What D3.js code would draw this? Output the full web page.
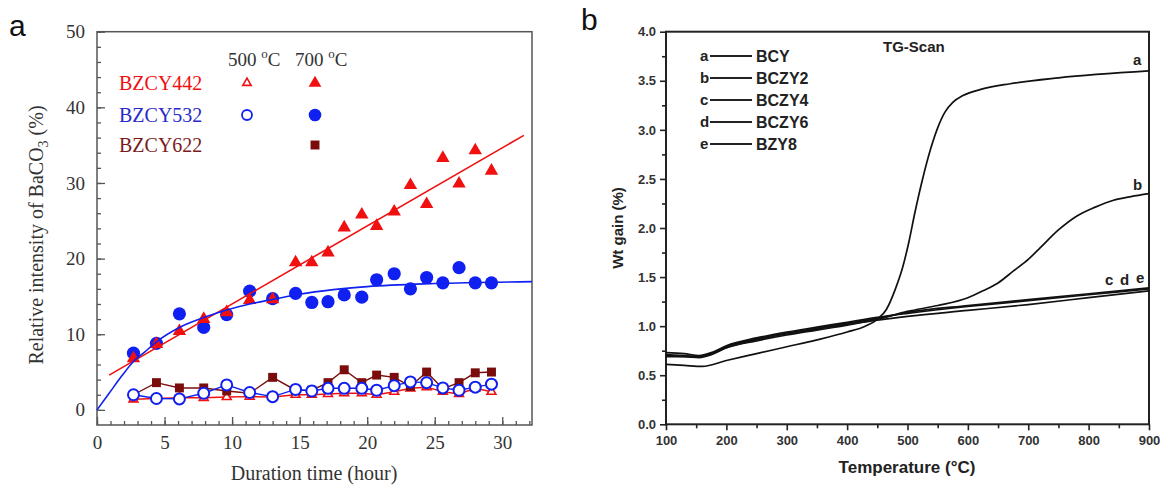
<!DOCTYPE html>
<html>
<head>
<meta charset="utf-8">
<script src="https://cdn.jsdelivr.net/npm/d3@7/dist/d3.min.js"></script>
<style>
  html, body { margin: 0; padding: 0; background: #fff; }
  svg { display: block; }
</style>
</head>
<body>
<svg id="fig" width="1162" height="490"></svg>
<script>
// ---------- Panel a: BaCO3 formation vs. exposure time ----------
const hours = [2.7, 4.4, 6.1, 7.9, 9.6, 11.3, 13.0, 14.7, 15.9, 17.1, 18.3, 19.6, 20.7, 22.0, 23.2, 24.4, 25.6, 26.8, 28.0, 29.2];
const bzcy442_700 = [6.8, 8.7, 10.4, 12.0, 12.9, 14.5, 14.6, 19.5, 19.5, 20.8, 24.1, 25.8, 24.3, 26.2, 29.7, 27.2, 33.3, 29.9, 34.3, 31.6];
const bzcy532_700 = [7.5, 8.8, 12.7, 10.9, 12.6, 15.7, 14.7, 15.4, 14.2, 14.3, 15.2, 14.9, 17.2, 18.0, 16.0, 17.5, 16.8, 18.8, 16.8, 16.8];
const bzcy442_500 = [1.4, 1.5, 1.6, 1.6, 1.7, 1.75, 1.7, 2.0, 2.0, 2.1, 2.2, 2.2, 2.0, 2.4, 2.85, 3.0, 2.4, 2.1, 2.85, 2.4];
const bzcy532_500 = [2.0, 1.5, 1.45, 2.2, 3.3, 2.3, 1.75, 2.7, 2.5, 2.85, 2.85, 2.85, 2.6, 3.2, 3.7, 3.6, 2.9, 2.6, 3.0, 3.4];
const bzcy622_700 = [2.0, 3.6, 2.9, 2.9, 2.5, 2.2, 4.3, 2.6, 2.6, 3.6, 5.3, 3.6, 4.6, 4.3, 3.1, 5.0, 2.8, 3.6, 4.9, 5.0];
// fitted trends
const fit442_t = [0.9, 31.6];
const fit442_v = [4.6, 36.3];
const fit532_t = [0, 0.9, 1.8, 2.7, 3.5, 4.4, 6.1, 7.9, 9.6, 11.3, 13, 15, 17.5, 20, 25, 32.2];
const fit532_v = [0, 2.2, 4.4, 6.4, 7.6, 9.0, 10.9, 12.2, 13.2, 14.0, 14.6, 15.3, 15.9, 16.3, 16.7, 16.95];
const aXTicks = [0, 5, 10, 15, 20, 25, 30];
const aYTicks = [0, 10, 20, 30, 40, 50];

// ---------- Panel b: TG scan ----------
const tempB = [100, 150, 175, 200, 250, 300, 350, 400, 450, 500, 550, 600, 625, 650, 675, 700, 720, 750, 780, 810, 840, 870, 900];
const wtB   = [0.70, 0.69, 0.72, 0.78, 0.85, 0.91, 0.96, 1.01, 1.07, 1.15, 1.21, 1.29, 1.36, 1.44, 1.56, 1.68, 1.80, 1.98, 2.12, 2.21, 2.28, 2.32, 2.35];
const tempA = [100, 130, 160, 200, 250, 300, 350, 400, 430, 450, 465, 480, 492, 502, 512, 525, 538, 550, 562, 575, 592, 620, 670, 750, 900];
const wtA   = [0.61, 0.60, 0.59, 0.65, 0.72, 0.79, 0.86, 0.94, 1.00, 1.07, 1.17, 1.38, 1.60, 1.85, 2.15, 2.50, 2.80, 3.02, 3.18, 3.28, 3.35, 3.41, 3.47, 3.53, 3.60];
const tempCDE = [100, 130, 155, 175, 200, 250, 300, 350, 400, 450, 500, 600, 700, 800, 900];
const wtC = [0.73, 0.72, 0.70, 0.73, 0.80, 0.88, 0.94, 0.99, 1.04, 1.09, 1.13, 1.20, 1.26, 1.32, 1.38];
const wtD = [0.71, 0.70, 0.69, 0.72, 0.79, 0.87, 0.93, 0.98, 1.03, 1.08, 1.14, 1.21, 1.27, 1.33, 1.39];
const wtE = [0.69, 0.69, 0.68, 0.71, 0.78, 0.86, 0.92, 0.97, 1.02, 1.06, 1.10, 1.16, 1.22, 1.29, 1.36];
const bXTicks = [100, 200, 300, 400, 500, 600, 700, 800, 900];
const bYTicks = [0, 0.5, 1.0, 1.5, 2.0, 2.5, 3.0, 3.5, 4.0];
const bLegendKeys = ["a", "b", "c", "d", "e"];
const bLegendNames = ["BCY", "BCZY2", "BCZY4", "BCZY6", "BZY8"];

const svg = d3.select("#fig");
const RED = "#f01010", BLUE = "#1020f0", DRED = "#7a0c0c";
const serif = "'Liberation Serif', 'Times New Roman', serif";
const sans = "'Liberation Sans', Arial, sans-serif";

// ================= Panel a =================
const ax = d3.scaleLinear().domain([0, 32.2]).range([97, 532]);
const ay = d3.scaleLinear().domain([-2, 50]).range([425, 31.7]);
const ga = svg.append("g");

// frame
ga.append("rect").attr("x", 97).attr("y", 31.7).attr("width", 435).attr("height", 393.3)
  .attr("fill", "none").attr("stroke", "#555").attr("stroke-width", 1.5);

// inward ticks
const axMinor = d3.range(0, 33, 1);
ga.append("g").attr("transform", "translate(0,425)")
  .call(d3.axisBottom(ax).tickValues(axMinor).tickSize(-4).tickFormat(""))
  .call(g => g.select(".domain").remove())
  .selectAll("line").attr("stroke", "#555").attr("stroke-width", 1.3);
ga.append("g").attr("transform", "translate(0,425)")
  .call(d3.axisBottom(ax).tickValues(aXTicks).tickSize(-8).tickPadding(11).tickFormat(d3.format("d")))
  .call(g => g.select(".domain").remove())
  .call(g => g.selectAll("line").attr("stroke", "#555").attr("stroke-width", 1.3))
  .call(g => g.selectAll("text").attr("font-family", serif).attr("font-size", 19).attr("fill", "#333"));
ga.append("g").attr("transform", "translate(97,0)")
  .call(d3.axisLeft(ay).tickValues(d3.range(0, 51, 2)).tickSize(-4).tickFormat(""))
  .call(g => g.select(".domain").remove())
  .selectAll("line").attr("stroke", "#555").attr("stroke-width", 1.3);
ga.append("g").attr("transform", "translate(97,0)")
  .call(d3.axisLeft(ay).tickValues(aYTicks).tickSize(-8).tickPadding(12).tickFormat(d3.format("d")))
  .call(g => g.select(".domain").remove())
  .call(g => g.selectAll("line").attr("stroke", "#555").attr("stroke-width", 1.3))
  .call(g => g.selectAll("text").attr("font-family", serif).attr("font-size", 19).attr("fill", "#333"));

// axis titles
ga.append("text").attr("x", 314).attr("y", 480).attr("text-anchor", "middle")
  .attr("font-family", serif).attr("font-size", 20).attr("fill", "#333").text("Duration time (hour)");
const yt = ga.append("text").attr("transform", "translate(43,235) rotate(-90)").attr("text-anchor", "middle")
  .attr("font-family", serif).attr("font-size", 20).attr("fill", "#333");
yt.append("tspan").text("Relative intensity of BaCO");
yt.append("tspan").attr("font-size", 14).attr("dy", 5).text("3");
yt.append("tspan").attr("dy", -5).text(" (%)");

// series helpers
const pts = vals => hours.map((t, i) => [t, vals[i]]);
const line = d3.line().x(d => ax(d[0])).y(d => ay(d[1]));
const sym = (type, size) => d3.symbol().type(type).size(size)();

// connecting lines of the lower series
[[bzcy442_500, RED], [bzcy622_700, DRED], [bzcy532_500, BLUE]].forEach(([v, c]) => {
  ga.append("path").attr("d", line(pts(v))).attr("fill", "none").attr("stroke", c).attr("stroke-width", 1.4);
});

// 500 °C BZCY442: open triangles
ga.append("g").selectAll("path").data(pts(bzcy442_500)).join("path")
  .attr("transform", d => `translate(${ax(d[0])},${ay(d[1])})`)
  .attr("d", sym(d3.symbolTriangle, 34)).attr("fill", "#fff").attr("stroke", RED).attr("stroke-width", 1.6);
// 700 °C BZCY622: filled squares
ga.append("g").selectAll("path").data(pts(bzcy622_700)).join("path")
  .attr("transform", d => `translate(${ax(d[0])},${ay(d[1])})`)
  .attr("d", sym(d3.symbolSquare, 80)).attr("fill", DRED);
// 500 °C BZCY532: open circles
ga.append("g").selectAll("circle").data(pts(bzcy532_500)).join("circle")
  .attr("cx", d => ax(d[0])).attr("cy", d => ay(d[1])).attr("r", 5.5)
  .attr("fill", "#fff").attr("stroke", BLUE).attr("stroke-width", 2);

// 700 °C BZCY532: filled circles
ga.append("g").selectAll("circle").data(pts(bzcy532_700)).join("circle")
  .attr("cx", d => ax(d[0])).attr("cy", d => ay(d[1])).attr("r", 6.6).attr("fill", BLUE);
// 700 °C BZCY442: filled triangles
ga.append("g").selectAll("path").data(pts(bzcy442_700)).join("path")
  .attr("transform", d => `translate(${ax(d[0])},${ay(d[1])})`)
  .attr("d", sym(d3.symbolTriangle, 78)).attr("fill", RED);

// fitted trends
ga.append("path").attr("d", line(fit442_t.map((t, i) => [t, fit442_v[i]])))
  .attr("fill", "none").attr("stroke", RED).attr("stroke-width", 1.6);
ga.append("path").attr("d", line.curve(d3.curveMonotoneX)(fit532_t.map((t, i) => [t, fit532_v[i]])))
  .attr("fill", "none").attr("stroke", BLUE).attr("stroke-width", 1.6);
line.curve(d3.curveLinear);

// legend
const tempHead = (x, label) => {
  const t = ga.append("text").attr("x", x).attr("y", 66).attr("font-family", serif).attr("font-size", 19).attr("fill", "#333");
  t.append("tspan").text(label + " ");
  t.append("tspan").attr("font-size", 13).attr("dy", -8).text("o");
  t.append("tspan").attr("dy", 8).text("C");
};
tempHead(228, "500");
tempHead(295, "700");
const legRows = [["BZCY442", RED, 83], ["BZCY532", "#2a2ac8", 115], ["BZCY622", "#7a1c1c", 145]];
legRows.forEach(([name, c, y]) => {
  ga.append("text").attr("x", 119).attr("y", y + 7).attr("font-family", serif).attr("font-size", 20).attr("fill", c).text(name);
});
ga.append("path").attr("transform", "translate(247,83)").attr("d", sym(d3.symbolTriangle, 30))
  .attr("fill", "#fff").attr("stroke", RED).attr("stroke-width", 1.6);
ga.append("path").attr("transform", "translate(315,83)").attr("d", sym(d3.symbolTriangle, 70)).attr("fill", RED);
ga.append("circle").attr("cx", 247).attr("cy", 115).attr("r", 5).attr("fill", "#fff").attr("stroke", BLUE).attr("stroke-width", 1.8);
ga.append("circle").attr("cx", 315).attr("cy", 115).attr("r", 6.3).attr("fill", BLUE);
ga.append("path").attr("transform", "translate(315,145)").attr("d", sym(d3.symbolSquare, 80)).attr("fill", DRED);

// panel letter
svg.append("text").attr("x", 9).attr("y", 36).attr("font-family", sans).attr("font-size", 30).attr("fill", "#111").text("a");

// ================= Panel b =================
const bx = d3.scaleLinear().domain([100, 900]).range([666, 1149]);
const by = d3.scaleLinear().domain([0, 4]).range([424.3, 31.7]);
const gb = svg.append("g");

gb.append("rect").attr("x", 666).attr("y", 31.7).attr("width", 483).attr("height", 392.6)
  .attr("fill", "none").attr("stroke", "#222").attr("stroke-width", 2);

gb.append("g").attr("transform", "translate(0,424.3)")
  .call(d3.axisBottom(bx).tickValues(d3.range(150, 900, 100)).tickSize(4).tickFormat(""))
  .call(g => g.select(".domain").remove())
  .selectAll("line").attr("stroke", "#222").attr("stroke-width", 1.6);
gb.append("g").attr("transform", "translate(0,424.3)")
  .call(d3.axisBottom(bx).tickValues(bXTicks).tickSize(6).tickPadding(5).tickFormat(d3.format("d")))
  .call(g => g.select(".domain").remove())
  .call(g => g.selectAll("line").attr("stroke", "#222").attr("stroke-width", 1.6))
  .call(g => g.selectAll("text").attr("font-family", sans).attr("font-weight", "bold").attr("font-size", 13).attr("fill", "#333"));
gb.append("g").attr("transform", "translate(666,0)")
  .call(d3.axisLeft(by).tickValues(d3.range(0.25, 4, 0.5)).tickSize(4).tickFormat(""))
  .call(g => g.select(".domain").remove())
  .selectAll("line").attr("stroke", "#222").attr("stroke-width", 1.6);
gb.append("g").attr("transform", "translate(666,0)")
  .call(d3.axisLeft(by).tickValues(bYTicks).tickSize(6).tickPadding(4).tickFormat(d3.format(".1f")))
  .call(g => g.select(".domain").remove())
  .call(g => g.selectAll("line").attr("stroke", "#222").attr("stroke-width", 1.6))
  .call(g => g.selectAll("text").attr("font-family", sans).attr("font-weight", "bold").attr("font-size", 13).attr("fill", "#333"));

gb.append("text").attr("x", 907).attr("y", 473).attr("text-anchor", "middle")
  .attr("font-family", sans).attr("font-weight", "bold").attr("font-size", 17).attr("fill", "#222").text("Temperature (°C)");
gb.append("text").attr("transform", "translate(623,228) rotate(-90)").attr("text-anchor", "middle")
  .attr("font-family", sans).attr("font-weight", "bold").attr("font-size", 15).attr("fill", "#222").text("Wt gain (%)");

const tg = d3.line().x(d => bx(d[0])).y(d => by(d[1])).curve(d3.curveMonotoneX);
const curves = [
  [tempA, wtA], [tempB, wtB], [tempCDE, wtC], [tempCDE, wtD], [tempCDE, wtE]
];
curves.forEach(([ts, ws]) => {
  gb.append("path").attr("d", tg(ts.map((t, i) => [t, ws[i]])))
    .attr("fill", "none").attr("stroke", "#111").attr("stroke-width", 1.7);
});

// curve tags
const tagStyle = s => s.attr("font-family", sans).attr("font-weight", "bold").attr("font-size", 15).attr("fill", "#222");
gb.append("text").attr("x", 1133).attr("y", 65).call(tagStyle).text("a");
gb.append("text").attr("x", 1133).attr("y", 190).call(tagStyle).text("b");
gb.append("text").attr("x", 1105).attr("y", 285).call(tagStyle).text("c");
gb.append("text").attr("x", 1120).attr("y", 285).call(tagStyle).text("d");
gb.append("text").attr("x", 1136).attr("y", 283).call(tagStyle).text("e");

gb.append("text").attr("x", 883).attr("y", 52).call(tagStyle).text("TG-Scan");

// legend
const legY = [56, 78, 100, 122, 144];
bLegendKeys.forEach((k, i) => {
  gb.append("text").attr("x", 700).attr("y", legY[i] + 5).call(tagStyle).text(k);
  gb.append("line").attr("x1", 710).attr("x2", 752).attr("y1", legY[i]).attr("y2", legY[i])
    .attr("stroke", "#222").attr("stroke-width", 1.8);
  gb.append("text").attr("x", 756).attr("y", legY[i] + 6).call(tagStyle).attr("font-size", 16).text(bLegendNames[i]);
});

svg.append("text").attr("x", 581).attr("y", 30).attr("font-family", sans).attr("font-size", 30).attr("fill", "#111").text("b");
</script>
</body>
</html>
